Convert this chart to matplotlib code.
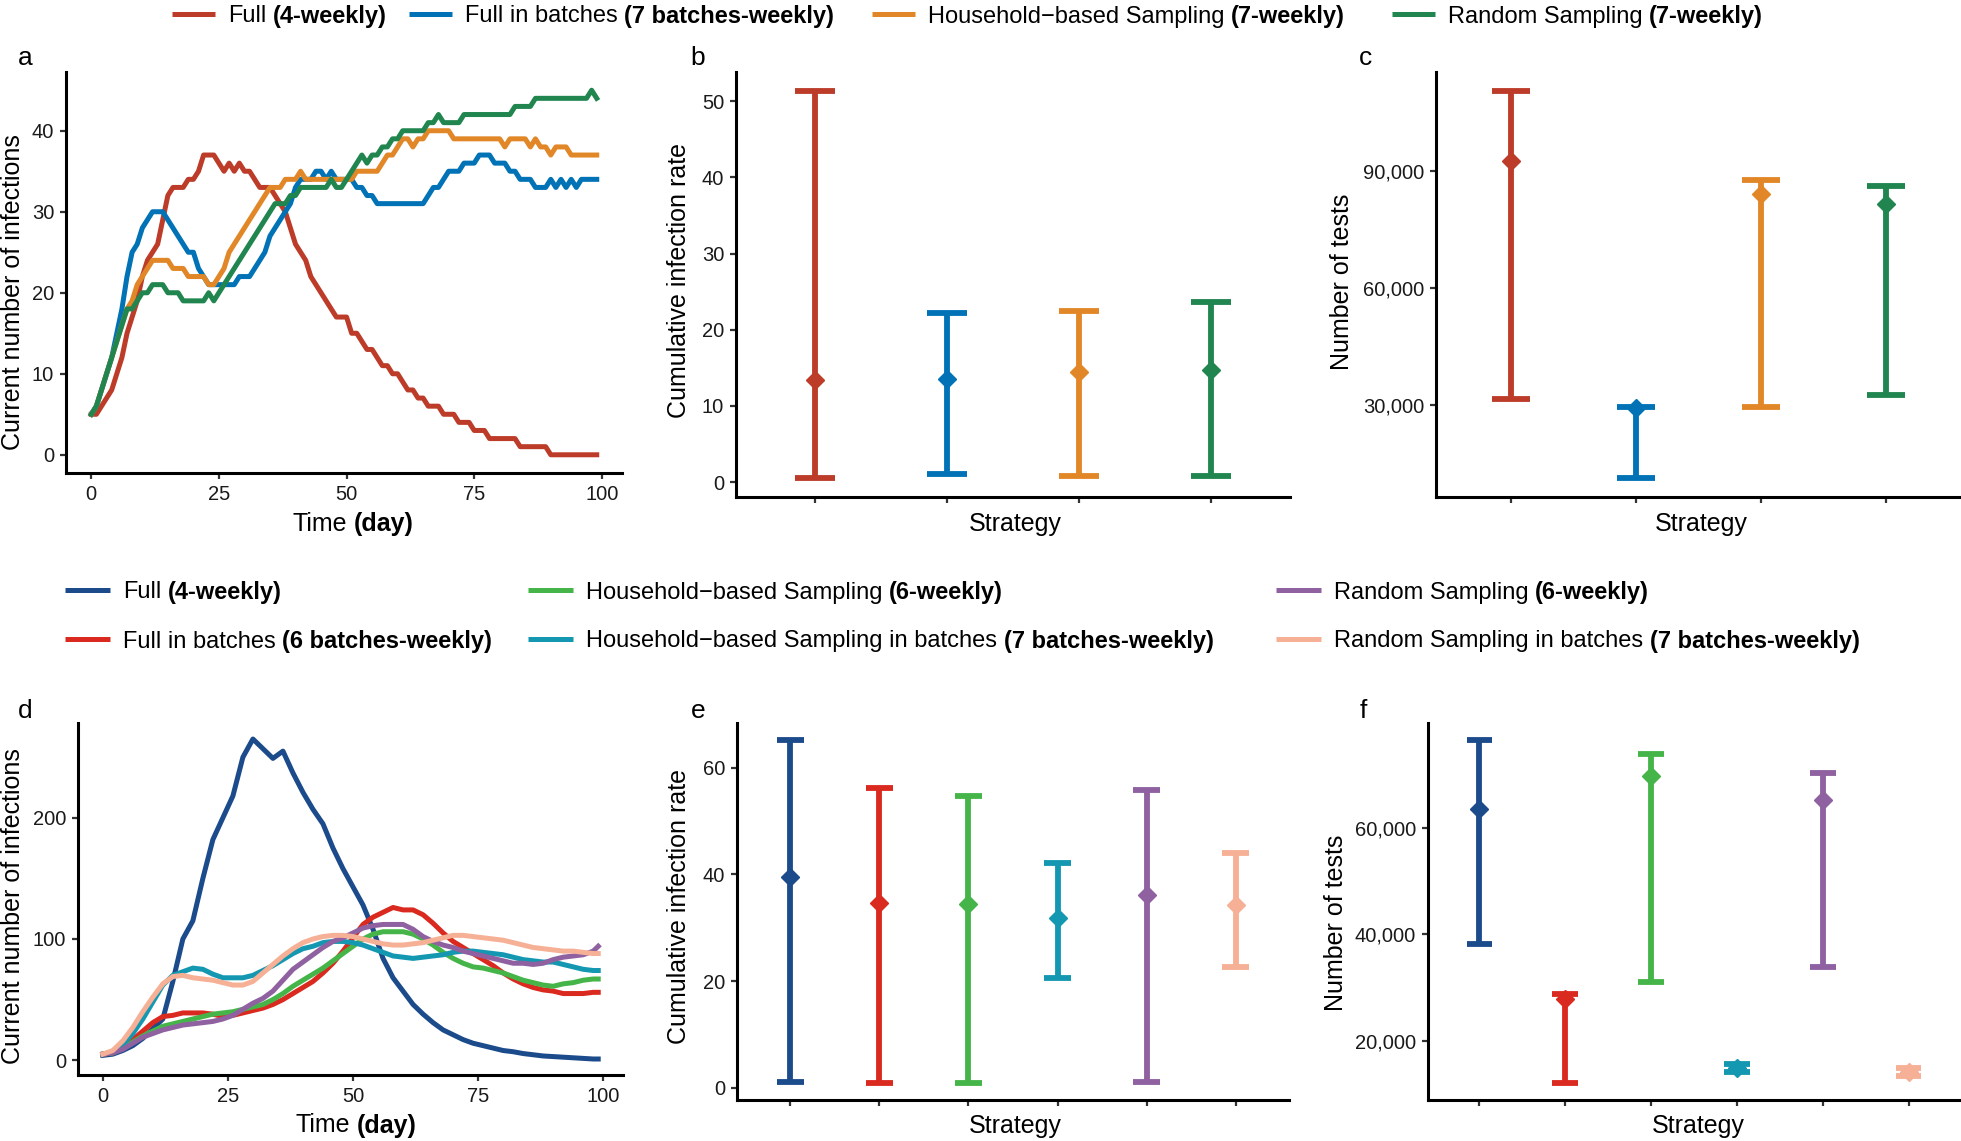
import numpy as np
import matplotlib
matplotlib.use("Agg")
import matplotlib.pyplot as plt
from matplotlib.lines import Line2D
from matplotlib.ticker import FuncFormatter

plt.rcParams["font.family"] = ["Liberation Sans", "DejaVu Sans"]

W, H = 1961, 1141

# ---- panel a: current infections, no batches (days 0..99) ----
days_a = list(range(100))
full_a = [5, 5, 6, 7, 8, 10, 12, 15, 17, 19,
          22, 24, 25, 26, 29, 32, 33, 33, 33, 34,
          34, 35, 37, 37, 37, 36, 35, 36, 35, 36,
          35, 35, 34, 33, 33, 33, 32, 31, 30, 28,
          26, 25, 24, 22, 21, 20, 19, 18, 17, 17,
          17, 15, 15, 14, 13, 13, 12, 11, 11, 10,
          10, 9, 8, 8, 7, 7, 6, 6, 6, 5,
          5, 5, 4, 4, 4, 3, 3, 3, 2, 2,
          2, 2, 2, 2, 1, 1, 1, 1, 1, 1,
          0, 0, 0, 0, 0, 0, 0, 0, 0, 0]
batch_a = [5, 6, 8, 10, 12, 15, 18, 22, 25, 26,
           28, 29, 30, 30, 30, 29, 28, 27, 26, 25,
           25, 23, 22, 21, 21, 21, 21, 21, 21, 22,
           22, 22, 23, 24, 25, 27, 28, 29, 30, 31,
           33, 34, 34, 34, 35, 35, 34, 35, 34, 34,
           34, 34, 33, 33, 32, 32, 31, 31, 31, 31,
           31, 31, 31, 31, 31, 31, 32, 33, 33, 34,
           35, 35, 35, 36, 36, 36, 37, 37, 37, 36,
           36, 36, 35, 35, 34, 34, 34, 33, 33, 33,
           34, 33, 34, 33, 34, 33, 34, 34, 34, 34]
house_a = [5, 6, 8, 10, 12, 14, 16, 18, 19, 21,
           22, 23, 24, 24, 24, 24, 23, 23, 23, 22,
           22, 22, 22, 21, 21, 22, 23, 25, 26, 27,
           28, 29, 30, 31, 32, 33, 33, 33, 34, 34,
           34, 35, 34, 34, 34, 34, 34, 34, 34, 34,
           34, 34, 35, 35, 35, 35, 35, 36, 37, 37,
           38, 39, 39, 38, 39, 39, 40, 40, 40, 40,
           40, 39, 39, 39, 39, 39, 39, 39, 39, 39,
           39, 38, 39, 39, 39, 39, 38, 39, 38, 38,
           37, 38, 38, 38, 37, 37, 37, 37, 37, 37]
random_a = [5, 6, 8, 10, 12, 14, 16, 18, 18, 19,
            20, 20, 21, 21, 21, 20, 20, 20, 19, 19,
            19, 19, 19, 20, 19, 20, 21, 22, 23, 24,
            25, 26, 27, 28, 29, 30, 31, 31, 31, 32,
            32, 33, 33, 33, 33, 33, 33, 34, 33, 33,
            34, 35, 36, 37, 36, 37, 37, 38, 38, 39,
            39, 40, 40, 40, 40, 40, 41, 41, 42, 41,
            41, 41, 41, 42, 42, 42, 42, 42, 42, 42,
            42, 42, 42, 43, 43, 43, 43, 44, 44, 44,
            44, 44, 44, 44, 44, 44, 44, 44, 45, 44]

# ---- panel d: current infections, with batches ----
days_d = list(range(0, 100, 2)) + [99]
full_d = [4, 5, 8, 12, 18, 26, 34, 65, 100, 115, 150, 182, 200, 218, 250, 265, 257,
          249, 255, 237, 221, 207, 195, 175, 158, 143, 128, 108, 84, 68, 57, 46, 38,
          31, 25, 21, 17, 14, 12, 10, 8, 7, 5.5, 4.5, 3.5, 3, 2.5, 2, 1.5, 1, 1]
fullb_d = [5, 6, 10, 17, 24, 31, 36, 37, 39, 39, 39, 38, 36, 37, 39, 41, 43, 46,
           50, 55, 60, 65, 72, 80, 90, 101, 112, 118, 122, 126, 124, 124, 120, 113,
           105, 98, 93, 88, 83, 78, 72, 67, 63, 60, 58, 57, 55, 55, 55, 56, 56]
house_d = [5, 6, 10, 15, 20, 24, 28, 30, 32, 34, 36, 38, 39, 40, 42, 44, 46, 50,
           55, 61, 66, 71, 76, 82, 88, 94, 100, 104, 106, 106, 106, 104, 100, 95,
           89, 84, 80, 77, 76, 74, 72, 69, 66, 64, 62, 61, 63, 64, 66, 67, 67]
houseb_d = [5, 7, 13, 22, 34, 48, 62, 70, 73, 76, 75, 71, 68, 68, 68, 70, 74, 78,
            83, 88, 92, 94, 97, 98, 98, 97, 95, 92, 89, 86, 85, 84, 85, 86, 87, 89,
            90, 90, 89, 88, 87, 85, 83, 82, 81, 81, 79, 77, 75, 74, 74]
random_d = [5, 6, 9, 14, 19, 22, 25, 27, 29, 30, 31, 32, 34, 37, 42, 47, 51, 57,
            66, 75, 81, 87, 93, 98, 101, 105, 109, 111, 112, 112, 112, 108, 102, 98,
            95, 93, 90, 88, 86, 84, 82, 80, 80, 79, 80, 83, 85, 86, 87, 90, 94]
randomb_d = [5, 8, 16, 27, 40, 52, 63, 69, 70, 68, 67, 66, 64, 62, 62, 65, 72, 79,
             86, 92, 97, 100, 102, 103, 103, 102, 100, 98, 96, 95, 95, 96, 97, 99,
             101, 103, 103, 102, 101, 100, 99, 97, 95, 93, 92, 91, 90, 90, 89, 88, 88]

# ---- panels b, c: summaries (4 strategies) ----
b_mean = [13.35, 13.5, 14.45, 14.7]
b_lo = [0.57, 1.0, 0.74, 0.74]
b_hi = [51.3, 22.2, 22.4, 23.7]
c_mean = [92600, 29000, 84300, 81700]
c_lo = [31500, 11200, 29400, 32600]
c_hi = [110600, 29400, 87900, 86300]

# ---- panels e, f: summaries (6 strategies) ----
e_mean = [39.5, 34.7, 34.4, 31.75, 36.1, 34.2]
e_lo = [1.06, 0.9, 0.9, 20.6, 1.06, 22.6]
e_hi = [65.2, 56.25, 54.8, 42.2, 55.9, 44.1]
f_mean = [63560, 27800, 69600, 14800, 65200, 14200]
f_lo = [38100, 12100, 31100, 14100, 33900, 13400]
f_hi = [76400, 28750, 73750, 15600, 70300, 14800]

top_labels = [("Full", "(4-weekly)"),
              ("Full in batches", "(7 batches-weekly)"),
              ("Household\u2212based Sampling", "(7-weekly)"),
              ("Random Sampling", "(7-weekly)")]
top_colors = ["#BC3C29", "#0072B5", "#E18727", "#20854E"]

bot_labels = [("Full", "(4-weekly)"),
              ("Full in batches", "(6 batches-weekly)"),
              ("Household\u2212based Sampling", "(6-weekly)"),
              ("Household\u2212based Sampling in batches", "(7 batches-weekly)"),
              ("Random Sampling", "(6-weekly)"),
              ("Random Sampling in batches", "(7 batches-weekly)")]
bot_colors = ["#1C4B8C", "#DA2A20", "#45B549", "#1497B1", "#8F61A0", "#F6B096"]

fig = plt.figure(figsize=(W / 100, H / 100), dpi=100)
renderer = fig.canvas.get_renderer()


def add_ax(x0, y0, x1, y1):
    ax = fig.add_axes([x0 / W, 1 - y1 / H, (x1 - x0) / W, (y1 - y0) / H])
    ax.set_facecolor("none")
    for s in ["top", "right"]:
        ax.spines[s].set_visible(False)
    for s in ["left", "bottom"]:
        ax.spines[s].set_linewidth(2.2)
        ax.spines[s].set_capstyle("projecting")
    ax.tick_params(length=4.5, width=1.6, color="#333333", labelsize=14.5,
                   labelcolor="#1a1a1a", pad=4)
    return ax


def gg_lim(*arrs):
    vals = np.concatenate([np.asarray(a, float) for a in arrs])
    lo, hi = vals.min(), vals.max()
    r = hi - lo
    return lo - 0.05 * r, hi + 0.05 * r


def text_width(s, size, weight="normal"):
    t = fig.text(0, 0, s, fontsize=size, fontweight=weight)
    w = t.get_window_extent(renderer=renderer).width
    t.remove()
    return w


def rich(x, y, parts, size, ha="left"):
    sp = text_width("a a", size) - text_width("aa", size)
    widths = [text_width(s, size, w) for s, w in parts]
    total = sum(widths) + sp * (len(parts) - 1)
    if ha == "center":
        x = x - total / 2
    for (s, w), wd in zip(parts, widths):
        fig.text(x / W, 1 - y / H, s, fontsize=size, fontweight=w,
                 va="center_baseline", ha="left", color="black")
        x += wd + sp


def key(x, y, color, length=43):
    fig.add_artist(Line2D([x / W, (x + length) / W], [1 - y / H, 1 - y / H],
                          transform=fig.transFigure, color=color, lw=3.6,
                          solid_capstyle="butt"))


def summary(ax, mean, lo, hi, colors):
    x = np.arange(1, len(mean) + 1)
    ax.vlines(x, lo, hi, colors=colors, lw=4.2)
    ax.hlines(lo, x - 0.15, x + 0.15, colors=colors, lw=4.2)
    ax.hlines(hi, x - 0.15, x + 0.15, colors=colors, lw=4.2)
    for xi, m, c in zip(x, mean, colors):
        ax.plot(xi, m, "D", ms=9.5, color=c, mec=c, zorder=4)
    ax.set_xlim(0.4, len(mean) + 0.6)
    ax.set_xticks(x)
    ax.set_xticklabels([])
    ax.set_ylim(*gg_lim(lo, hi, mean))


comma = FuncFormatter(lambda v, p: f"{v:,.0f}")

# panel a
ax_a = add_ax(66, 72, 622, 473)
for vals, c in zip([full_a, batch_a, house_a, random_a], top_colors):
    ax_a.plot(days_a, vals, color=c, lw=3.6, solid_joinstyle="round")
ax_a.set_xlim(-4.95, 103.95)
ax_a.set_ylim(*gg_lim(full_a, batch_a, house_a, random_a))
ax_a.set_xticks([0, 25, 50, 75, 100])
ax_a.set_yticks([0, 10, 20, 30, 40])

# panel b
ax_b = add_ax(736, 72, 1290, 497)
summary(ax_b, b_mean, b_lo, b_hi, top_colors)
ax_b.set_yticks([0, 10, 20, 30, 40, 50])

# panel c
ax_c = add_ax(1436, 72, 1961, 497)
summary(ax_c, c_mean, c_lo, c_hi, top_colors)
ax_c.set_yticks([30000, 60000, 90000])
ax_c.yaxis.set_major_formatter(comma)

# panel d
ax_d = add_ax(78, 723, 623, 1075)
for vals, c in zip([full_d, fullb_d, house_d, houseb_d, random_d, randomb_d], bot_colors):
    ax_d.plot(days_d, vals, color=c, lw=3.6, solid_joinstyle="round")
ax_d.set_xlim(-4.95, 103.95)
ax_d.set_ylim(*gg_lim(full_d, fullb_d, house_d, houseb_d, random_d, randomb_d))
ax_d.set_xticks([0, 25, 50, 75, 100])
ax_d.set_yticks([0, 100, 200])

# panel e
ax_e = add_ax(737, 723, 1289, 1100)
summary(ax_e, e_mean, e_lo, e_hi, bot_colors)
ax_e.set_yticks([0, 20, 40, 60])

# panel f
ax_f = add_ax(1428, 723, 1960, 1100)
summary(ax_f, f_mean, f_lo, f_hi, bot_colors)
ax_f.set_yticks([20000, 40000, 60000])
ax_f.yaxis.set_major_formatter(comma)

# axis titles
ylab = [("Current number of infections", 13, 292), ("Cumulative infection rate", 679, 280),
        ("Number of tests", 1342, 282), ("Current number of infections", 13, 906),
        ("Cumulative infection rate", 679, 907), ("Number of tests", 1336, 923)]
for s, x, y in ylab:
    fig.text(x / W, 1 - y / H, s, fontsize=18, rotation=90, ha="center", va="center")

rich(353, 521, [("Time", "normal"), ("(day)", "bold")], 18, ha="center")
rich(356, 1123, [("Time", "normal"), ("(day)", "bold")], 18, ha="center")
for x, y in [(1015, 521), (1701, 521), (1015, 1123), (1698, 1123)]:
    fig.text(x / W, 1 - y / H, "Strategy", fontsize=18, ha="center", va="center_baseline")

# panel letters
for s, x, y in [("a", 25, 58), ("b", 698, 58), ("c", 1366, 58),
                ("d", 25, 711), ("e", 698, 711), ("f", 1363, 711)]:
    fig.text(x / W, 1 - y / H, s, fontsize=19, ha="center", va="center")

# top legend
for (reg, bold), c, kx in zip(top_labels, top_colors, [172, 409, 872, 1392]):
    key(kx, 14, c)
    rich(kx + 56, 14, [(reg, "normal"), (bold, "bold")], 17)

# bottom legend (filled by column)
col_x = [65, 528, 1276]
row_y = [590, 639]
for i, ((reg, bold), c) in enumerate(zip(bot_labels, bot_colors)):
    kx = col_x[i // 2]
    ky = row_y[i % 2]
    key(kx, ky, c, length=45)
    rich(kx + 58, ky, [(reg, "normal"), (bold, "bold")], 17)

fig.savefig("out.png", dpi=100)
